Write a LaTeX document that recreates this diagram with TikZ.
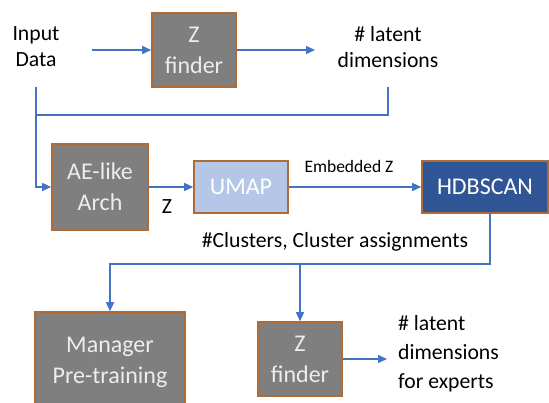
\documentclass[tikz,border=0pt]{standalone}
\usepackage{fontspec}
\setmainfont{Carlito}
\usetikzlibrary{arrows.meta}
\definecolor{flowblue}{HTML}{4472C4}
\definecolor{boxgray}{HTML}{7F7F7F}
\definecolor{boxedge}{HTML}{B06A35}
\definecolor{lightblue}{HTML}{B4C7E7}
\definecolor{darkblue}{HTML}{2F5597}
\definecolor{boxtext}{HTML}{EDEDED}
\begin{document}
\begin{tikzpicture}[x=1pt,y=-1pt,
  proc/.style={draw=boxedge, line width=1.6pt, fill=boxgray, text=boxtext,
    inner sep=0pt, align=center, font=\fontsize{24}{31}\selectfont},
  plain/.style={inner sep=0pt, align=center, font=\fontsize{21.7}{26}\selectfont},
  small/.style={inner sep=0pt, font=\fontsize{17.5}{21}\selectfont},
  flow/.style={draw=flowblue, line width=1.4pt},
  arr/.style={flow, -{Triangle[length=9pt,width=8pt]}}
]
\useasboundingbox (0,0) rectangle (549,403);
\clip (0,0) rectangle (549,403);
\fill[white] (0,0) rectangle (549,403);

% top row
\node[plain] (in) at (36,47) {Input\\Data};
\node[proc, minimum width=84pt, minimum height=74pt] (zf1) at (194,50) {Z\\finder};
\node[plain] (lat1) at (388,47) {\# latent\\dimensions};
\coordinate (in1) at (92,50);
\coordinate (lat1in) at (315,50);
\draw[arr] (in1) -- (zf1.west);
\draw[arr] (zf1.east) -- (lat1in);

% middle row
\node[proc, minimum width=96pt, minimum height=86pt] (ae) at (100,187) {AE-like\\Arch};
\node[proc, fill=lightblue, text=white, minimum width=94pt, minimum height=52pt] (umap) at (241,187) {UMAP};
\node[proc, fill=darkblue, text=white, minimum width=126pt, minimum height=52pt] (hdb) at (485,187) {HDBSCAN};
\node[plain] (zlab) at (167,207) {Z};
\node[small] (emb) at (349,166) {Embedded Z};

% inputs joined into the encoder
\coordinate (inb) at (36,87);
\coordinate (latb) at (388,87);
\coordinate (join) at (36,115);
\draw[flow] (latb) -- (388,115) -- (join);
\draw[arr] (inb) |- (ae.west);
\draw[arr] (ae.east) -- (umap.west);
\draw[arr] (umap.east) -- (hdb.west);

% bottom row
\node[plain] (clus) at (335,242) {\#Clusters, Cluster assignments};
\node[proc, minimum width=150pt, minimum height=101pt] (mgr) at (110,362.5) {Manager\\Pre-training};
\node[proc, minimum width=84pt, minimum height=74pt] (zf2) at (300,359) {Z\\finder};
\node[plain, align=left, anchor=west, font=\fontsize{21.7}{29}\selectfont] (lat2) at (398,354) {\# latent\\dimensions\\for experts};
\coordinate (hb) at (490,213);
\coordinate (split) at (300,264);
\draw[flow] (hb) -- (490,264) -- (split);
\draw[arr] (split) -| (mgr.north);
\draw[arr] (split) -- (zf2.north);
\coordinate (lat2in) at (387,359);
\draw[arr] (zf2.east) -- (lat2in);
\end{tikzpicture}
\end{document}
